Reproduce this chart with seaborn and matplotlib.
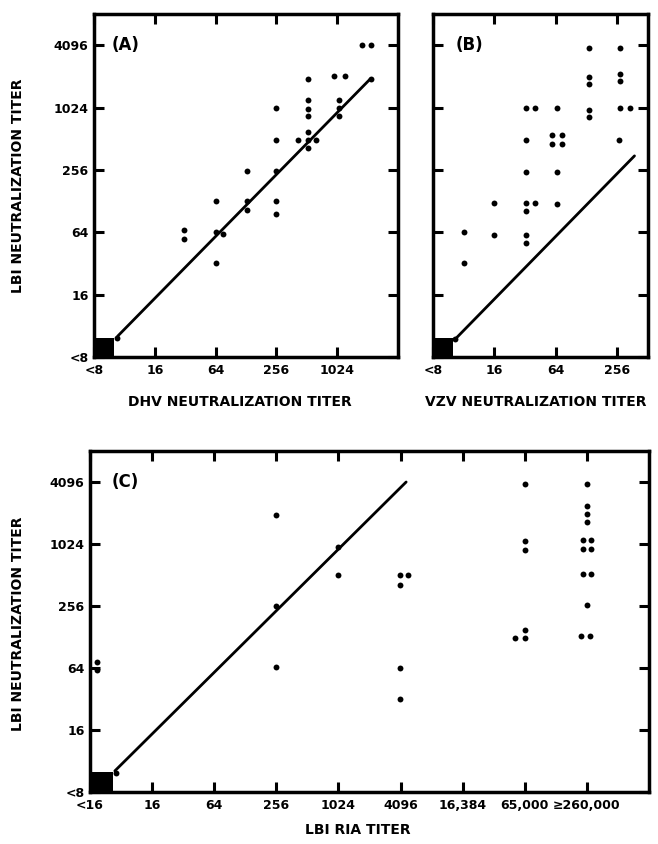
import matplotlib.pyplot as plt
import numpy as np
import pandas as pd
import seaborn as sns

# titers plotted on a log2 scale: 2 = below detection ("<8" / "<16"), 4 = 16, 6 = 64, ...
y_ticks = [2, 4, 6, 8, 10, 12]
y_labels = ['<8', '16', '64', '256', '1024', '4096']

# (A) DHV vs LBI neutralization
a_ticks = [2, 4, 6, 8, 10]
a_labels = ['<8', '16', '64', '256', '1024']
a_x = [10.8, 11.1, 9.05, 9.9, 10.25, 11.1, 9.05, 9.05, 9.05, 9.05, 9.05, 8.7, 9.05, 9.3,
       10.05, 10.05, 10.05, 8.0, 8.0, 8.0, 8.0, 8.0, 7.02, 7.02, 7.02,
       6.0, 6.0, 6.25, 6.0, 4.95, 4.95, 2.75]
a_y = [12.0, 12.0, 10.9, 11.0, 11.0, 10.9, 10.25, 9.95, 9.73, 9.2, 8.7, 8.96, 8.96, 8.96,
       10.25, 9.97, 9.73, 10.0, 8.96, 7.97, 7.0, 6.6, 7.97, 7.0, 6.7,
       7.0, 6.0, 5.94, 5.0, 6.08, 5.78, 2.6]
a_line_x = [2.78, 11.08]
a_line_y = [2.67, 10.91]

# (B) VZV vs LBI neutralization
b_ticks = [2, 4, 6, 8]
b_labels = ['<8', '16', '64', '256']
b_x = [3.0, 3.0, 4.0, 4.0,
       5.03, 5.31, 5.03, 5.03, 5.03, 5.03, 5.31, 5.03, 5.03,
       6.04, 5.88, 5.88, 6.21, 6.21, 6.04, 6.04,
       7.08, 7.08, 7.08, 7.08, 7.08,
       8.1, 8.1, 8.1, 8.1, 8.4, 8.07, 2.72]
b_y = [6.0, 5.0, 6.93, 5.92,
       9.97, 9.97, 8.96, 7.93, 6.93, 6.68, 6.93, 5.92, 5.65,
       10.0, 9.13, 8.83, 9.13, 8.83, 7.93, 6.9,
       11.9, 10.99, 10.77, 9.92, 9.69,
       11.9, 11.09, 10.86, 9.97, 9.97, 8.96, 2.58]
b_line_x = [2.71, 8.56]
b_line_y = [2.56, 8.45]

# (C) LBI RIA vs LBI neutralization
c_ticks = [2, 4, 6, 8, 10, 12, 14, 16, 18]
c_labels = ['<16', '16', '64', '256', '1024', '4096', '16,384', '65,000', '\u2265260,000']
c_x = [2.22, 2.22, 8.0, 8.0, 8.0, 10.0, 10.0,
       11.97, 12.25, 11.97, 11.97, 11.97,
       16.0, 16.0, 16.0, 15.7, 16.0, 16.0,
       18.0, 18.0, 18.0, 18.0, 17.86, 18.14, 17.86, 18.14, 17.86, 18.14, 18.0, 17.8, 18.1, 2.84]
c_y = [6.19, 5.95, 10.93, 8.0, 6.03, 9.9, 8.99,
       8.99, 8.99, 8.67, 6.0, 5.0,
       11.94, 10.1, 9.8, 6.96, 7.24, 6.96,
       11.94, 11.22, 10.97, 10.7, 10.14, 10.14, 9.85, 9.85, 9.02, 9.02, 8.03, 7.03, 7.03, 2.61]
c_line_x = [2.8, 12.18]
c_line_y = [2.68, 12.0]

# extent of the solid block of sera below detection in each panel
a_box = [2.0, 2.65, 2.62]
b_box = [2.0, 2.66, 2.62]
c_box = [2.0, 2.75, 2.65]

sns.set_style('ticks')
plt.rcParams['font.family'] = ['DejaVu Sans']
plt.rcParams['font.weight'] = 'bold'
for key in ['axes.edgecolor', 'axes.labelcolor', 'text.color', 'xtick.color', 'ytick.color']:
    plt.rcParams[key] = 'black'

fig = plt.figure(figsize=(6.58, 8.44), dpi=100)
W, H = 658, 844


def px_axes(l, t, r, b):
    return fig.add_axes([l / W, 1 - b / H, (r - l) / W, (b - t) / H])


def draw_panel(ax, x, y, line_x, line_y, box, xlim, xticks, xlabels, tag, tag_x):
    ax.fill_between([box[0], box[1]], 2, box[2], color='black', lw=0)
    sns.lineplot(x=line_x, y=line_y, ax=ax, color='black', lw=2.0, sort=False, estimator=None)
    sns.scatterplot(x=x, y=y, ax=ax, color='black', s=18, linewidth=0)
    ax.set_xlim(*xlim)
    ax.set_ylim(2, 13)
    ax.set_xticks(xticks)
    ax.set_xticklabels(xlabels, fontsize=9, fontweight='bold')
    ax.set_yticks(y_ticks)
    ax.set_yticklabels(y_labels, fontsize=9, fontweight='bold')
    ax.tick_params(direction='in', length=7, width=2.2, top=True, right=True, pad=4)
    ax.tick_params(axis='x', pad=5)
    for s in ax.spines.values():
        s.set_linewidth(2.5)
    ax.text(tag_x, 0.91, tag, transform=ax.transAxes, fontsize=12, fontweight='bold',
            va='center', ha='left')


ax_a = px_axes(94, 14, 398, 357)
draw_panel(ax_a, a_x, a_y, a_line_x, a_line_y, a_box, (2, 12), a_ticks, a_labels, '(A)', 0.059)
ax_a.set_xlabel('DHV NEUTRALIZATION TITER', fontsize=10, fontweight='bold', va='center')
ax_a.xaxis.set_label_coords(0.48, -0.131)
ax_a.set_ylabel('LBI NEUTRALIZATION TITER', fontsize=10, fontweight='bold', va='center')
ax_a.yaxis.set_label_coords(-0.251, 0.4985)

ax_b = px_axes(433, 14, 648, 357)
draw_panel(ax_b, b_x, b_y, b_line_x, b_line_y, b_box, (2, 9), b_ticks, b_labels, '(B)', 0.106)
ax_b.tick_params(axis='y', labelleft=False)
ax_b.set_xlabel('VZV NEUTRALIZATION TITER', fontsize=10, fontweight='bold', va='center')
ax_b.xaxis.set_label_coords(0.477, -0.131)
ax_b.set_ylabel('')

ax_c = px_axes(90, 451, 649, 792)
draw_panel(ax_c, c_x, c_y, c_line_x, c_line_y, c_box, (2, 20), c_ticks, c_labels, '(C)', 0.039)
ax_c.set_xlabel('LBI RIA TITER', fontsize=10, fontweight='bold', va='center')
ax_c.xaxis.set_label_coords(0.479, -0.111)
ax_c.set_ylabel('LBI NEUTRALIZATION TITER', fontsize=10, fontweight='bold', va='center')
ax_c.yaxis.set_label_coords(-0.129, 0.493)

fig.savefig('out.png', dpi=100)
